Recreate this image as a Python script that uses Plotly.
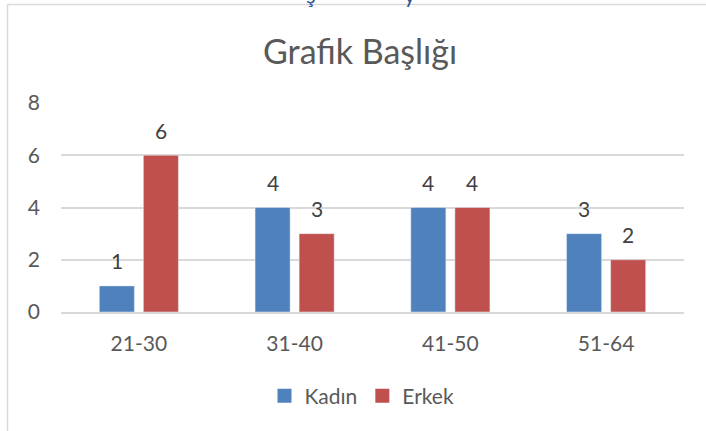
import plotly.graph_objects as go

categories = ["21-30", "31-40", "41-50", "51-64"]
kadin = [1, 4, 4, 3]
erkek = [6, 3, 4, 2]
series_names = ["Kadın", "Erkek"]
title_text = "Grafik Başlığı"
y_ticks = [0, 2, 4, 6, 8]

BLUE = "#4F81BD"
RED = "#C0504D"
TXT = "#595959"
FONT = "Lato"

W, H = 706, 431
L, R, T, B = 61, 22, 103, 119

bargap = 0.434
bargroupgap = 0.205

fig = go.Figure()
fig.add_bar(x=categories, y=kadin, name=series_names[0], marker_color=BLUE, showlegend=False)
fig.add_bar(x=categories, y=erkek, name=series_names[1], marker_color=RED, showlegend=False)
# legend entries with larger square swatches
for name, col in ((series_names[0], BLUE), (series_names[1], RED)):
    fig.add_scatter(x=[None], y=[None], mode="markers", name=name,
                    marker=dict(symbol="square", size=14, color=col, line=dict(width=0)))

# data labels via annotations placed at bar centres
slot = (1 - bargap) / 2
annotations = []
for vals, off in ((kadin, -slot / 2), (erkek, slot / 2)):
    for i, v in enumerate(vals):
        annotations.append(dict(
            x=i + off, y=v, xref="x", yref="y", text=str(v), showarrow=False,
            yanchor="middle", yshift=25,
            font=dict(family=FONT, size=21, color="#404040")))

pw = W - L - R
ph = H - T - B
def px_to_paper_x(px):
    return (px - L) / pw
def px_to_paper_y(py):
    return (H - B - py) / ph

# cut-off text fragments at the very top edge (as in the reference screenshot)
for ch, px in (("ş", 311), ("y", 410)):
    annotations.append(dict(
        x=px_to_paper_x(px), y=px_to_paper_y(0), xref="paper", yref="paper",
        text=ch, showarrow=False, xanchor="center", yanchor="bottom", yshift=-10,
        font=dict(family=FONT, size=22, color="#2F5597")))

shapes = [
    dict(type="line", xref="paper", yref="paper",
         x0=px_to_paper_x(7.5), x1=px_to_paper_x(710), y0=px_to_paper_y(4.5), y1=px_to_paper_y(4.5),
         line=dict(color="#D9D9D9", width=1.5)),
    dict(type="line", xref="paper", yref="paper",
         x0=px_to_paper_x(7.5), x1=px_to_paper_x(7.5), y0=px_to_paper_y(4.5), y1=px_to_paper_y(440),
         line=dict(color="#D9D9D9", width=1.5)),
]

fig.update_layout(
    width=W, height=H,
    margin=dict(l=L, r=R, t=T, b=B, autoexpand=False),
    paper_bgcolor="white", plot_bgcolor="white",
    barmode="group", bargap=bargap, bargroupgap=bargroupgap,
    title=dict(text=title_text, x=0.51, xanchor="center", y=1 - 52 / H, yanchor="middle",
               font=dict(family=FONT, size=34, color=TXT)),
    font=dict(family=FONT, color=TXT),
    legend=dict(orientation="h", x=362 / W, xanchor="center", xref="container",
                y=1 - 396 / H, yanchor="middle", yref="container",
                font=dict(family=FONT, size=21, color=TXT), itemwidth=30),
    xaxis=dict(type="category", showgrid=False, showline=True, linecolor="#D9D9D9", linewidth=1.5,
               tickfont=dict(family=FONT, size=21, color=TXT), ticks="", ticklabelstandoff=12),
    yaxis=dict(range=[0, 8], tickvals=y_ticks, showgrid=True, gridcolor="#D9D9D9", gridwidth=1.5,
               zeroline=False, showline=False,
               tickfont=dict(family=FONT, size=21, color=TXT), ticks="", ticklabelstandoff=20),
    annotations=annotations,
    shapes=shapes,
    showlegend=True,
)

fig.write_html("out.html", config={"displayModeBar": False},
               post_script="document.body.style.margin='0';")
